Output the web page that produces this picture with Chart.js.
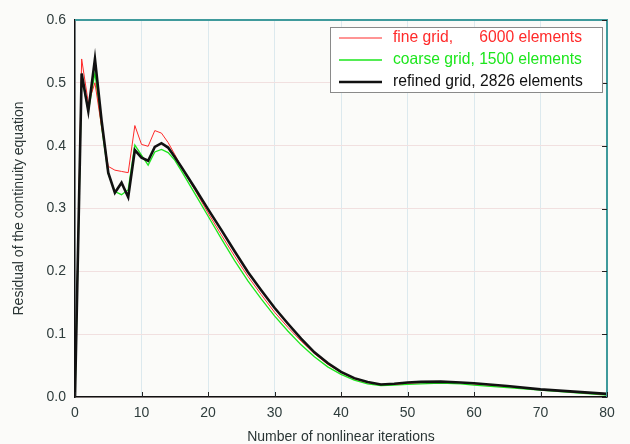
<!DOCTYPE html>
<html>
<head>
<meta charset="utf-8">
<script src="https://cdn.jsdelivr.net/npm/chart.js@4/dist/chart.umd.min.js"></script>
<style>
  html, body { margin: 0; padding: 0; background: #fbfbf9; }
  #wrap { width: 630px; height: 444px; position: relative; }
</style>
</head>
<body>
<div id="wrap"><canvas id="c" width="630" height="444"></canvas></div>
<script>
// ---- data ----
const iterations = [0,1,2,3,4,5,6,7,8,9,10,11,12,13,14,15,16,18,20,22,24,26,28,30,32,34,36,38,40,42,44,46,48,50,52,55,58,60,65,70,75,80];

const fineGrid = [0,0.538,0.468,0.500,0.430,0.367,0.361,0.359,0.357,0.432,0.402,0.399,0.424,0.420,0.405,0.386,0.366,0.330,0.293,0.258,0.224,0.192,0.163,0.135,0.111,0.089,0.069,0.052,0.039,0.029,0.023,0.020,0.020,0.022,0.023,0.024,0.023,0.021,0.017,0.012,0.008,0.004];

const coarseGrid = [0,0.510,0.455,0.516,0.430,0.355,0.327,0.322,0.330,0.401,0.385,0.369,0.390,0.394,0.389,0.377,0.360,0.324,0.288,0.252,0.217,0.185,0.156,0.129,0.105,0.083,0.064,0.048,0.036,0.027,0.021,0.018,0.019,0.020,0.021,0.022,0.021,0.019,0.015,0.011,0.007,0.003];

const refinedGrid = [0,0.515,0.455,0.538,0.440,0.357,0.325,0.341,0.318,0.393,0.381,0.376,0.398,0.404,0.397,0.382,0.366,0.333,0.299,0.266,0.232,0.199,0.170,0.142,0.117,0.093,0.071,0.054,0.040,0.030,0.024,0.020,0.021,0.023,0.024,0.0245,0.023,0.022,0.0175,0.0122,0.0085,0.005];

const legendLabels = ["fine grid,", "coarse grid, 1500 elements", "refined grid, 2826 elements"];
const legendExtra = ["6000 elements", "", ""];
const xTicks = [0,10,20,30,40,50,60,70,80];
const yTicks = [0,0.1,0.2,0.3,0.4,0.5,0.6];

const toPts = arr => iterations.map((x, i) => ({x: x, y: arr[i]}));

const FONT = "'Liberation Sans', Arial, Helvetica, sans-serif";
const TICK_COLOR = "#2e3c3c";

// frame, inward tick marks and legend
const decorPlugin = {
  id: 'decor',
  afterDatasetsDraw(chart) {
    const {ctx, chartArea: a, scales: {x, y}} = chart;
    ctx.save();
    // top and right frame (teal)
    ctx.strokeStyle = '#3f9a9c';
    ctx.lineWidth = 2;
    ctx.beginPath();
    ctx.moveTo(a.left, a.top); ctx.lineTo(a.right, a.top); ctx.lineTo(a.right, a.bottom);
    ctx.stroke();
    // inward ticks
    ctx.strokeStyle = '#222';
    ctx.lineWidth = 1;
    ctx.beginPath();
    xTicks.forEach(v => { const px = Math.round(x.getPixelForValue(v)) + 0.5; ctx.moveTo(px, a.bottom); ctx.lineTo(px, a.bottom - 5); });
    yTicks.forEach(v => { const py = Math.round(y.getPixelForValue(v)) + 0.5; ctx.moveTo(a.right, py); ctx.lineTo(a.right - 5, py); });
    ctx.stroke();

    // legend box
    const bx = 330, by = 27, bw = 272, bh = 65;
    ctx.fillStyle = '#ffffff';
    ctx.fillRect(bx, by, bw, bh);
    ctx.strokeStyle = '#8a8a8a';
    ctx.lineWidth = 1;
    ctx.strokeRect(bx + 0.5, by + 0.5, bw, bh);
    // font size so that the widest row spans ~189px like the reference
    let fs = 14;
    ctx.font = fs + "px " + FONT;
    const w = ctx.measureText(legendLabels[1]).width;
    fs = Math.max(12, Math.min(16, fs * 189 / w));
    ctx.font = fs.toFixed(2) + "px " + FONT;
    ctx.textBaseline = 'middle';
    chart.data.datasets.forEach((ds, i) => {
      const ry = 38 + i * 22;
      ctx.strokeStyle = ds.borderColor;
      ctx.lineWidth = ds.borderWidth;
      ctx.beginPath();
      ctx.moveTo(339, ry); ctx.lineTo(382, ry);
      ctx.stroke();
      ctx.fillStyle = ds.borderColor;
      ctx.textAlign = 'left';
      ctx.fillText(legendLabels[i], 393, ry);
      if (legendExtra[i]) {
        ctx.textAlign = 'right';
        ctx.fillText(legendExtra[i], 582, ry);
      }
    });
    ctx.restore();
  }
};

const bgPlugin = {
  id: 'bg',
  beforeDraw(chart) {
    const {ctx, width, height} = chart;
    ctx.save();
    ctx.fillStyle = '#fbfbf9';
    ctx.fillRect(0, 0, width, height);
    ctx.restore();
  }
};

new Chart(document.getElementById('c'), {
  type: 'line',
  data: {
    datasets: [
      { label: 'fine grid, 6000 elements', data: toPts(fineGrid), borderColor: '#ff2a2a', borderWidth: 1, pointRadius: 0, tension: 0, order: 1 },
      { label: 'coarse grid, 1500 elements', data: toPts(coarseGrid), borderColor: '#1de61d', borderWidth: 1.3, pointRadius: 0, tension: 0, order: 2 },
      { label: 'refined grid, 2826 elements', data: toPts(refinedGrid), borderColor: '#111111', borderWidth: 2.6, pointRadius: 0, tension: 0, order: 0 }
    ]
  },
  options: {
    responsive: false,
    animation: false,
    events: [],
    layout: { padding: { top: 20, right: 23, bottom: 0, left: 0 } },
    plugins: { legend: { display: false }, tooltip: { enabled: false } },
    scales: {
      x: {
        type: 'linear', min: 0, max: 80,
        afterBuildTicks: s => { s.ticks = xTicks.map(v => ({value: v})); },
        afterFit: s => { s.height = 47; },
        grid: { color: '#dce9ee', drawTicks: false, lineWidth: 1 },
        border: { color: '#111', width: 1.5 },
        ticks: { padding: 8, color: TICK_COLOR, font: { family: FONT, size: 14 }, maxRotation: 0 },
        title: { display: true, text: 'Number of nonlinear iterations', color: '#2a3535', font: { family: FONT, size: 14, lineHeight: 1 }, padding: { top: 0, bottom: 0 } }
      },
      y: {
        type: 'linear', min: 0, max: 0.6,
        afterBuildTicks: s => { s.ticks = yTicks.map(v => ({value: v})); },
        afterFit: s => { s.width = 75; },
        grid: { color: '#f1e0e0', drawTicks: false, lineWidth: 1 },
        border: { color: '#111', width: 1.5 },
        ticks: { padding: 9, color: TICK_COLOR, font: { family: FONT, size: 14 }, callback: v => v.toFixed(1) },
        title: { display: true, text: 'Residual of the continuity equation', color: '#2a3535', font: { family: FONT, size: 14, lineHeight: 1 }, padding: { top: 12, bottom: 0 } }
      }
    }
  },
  plugins: [bgPlugin, decorPlugin]
});
</script>
</body>
</html>
